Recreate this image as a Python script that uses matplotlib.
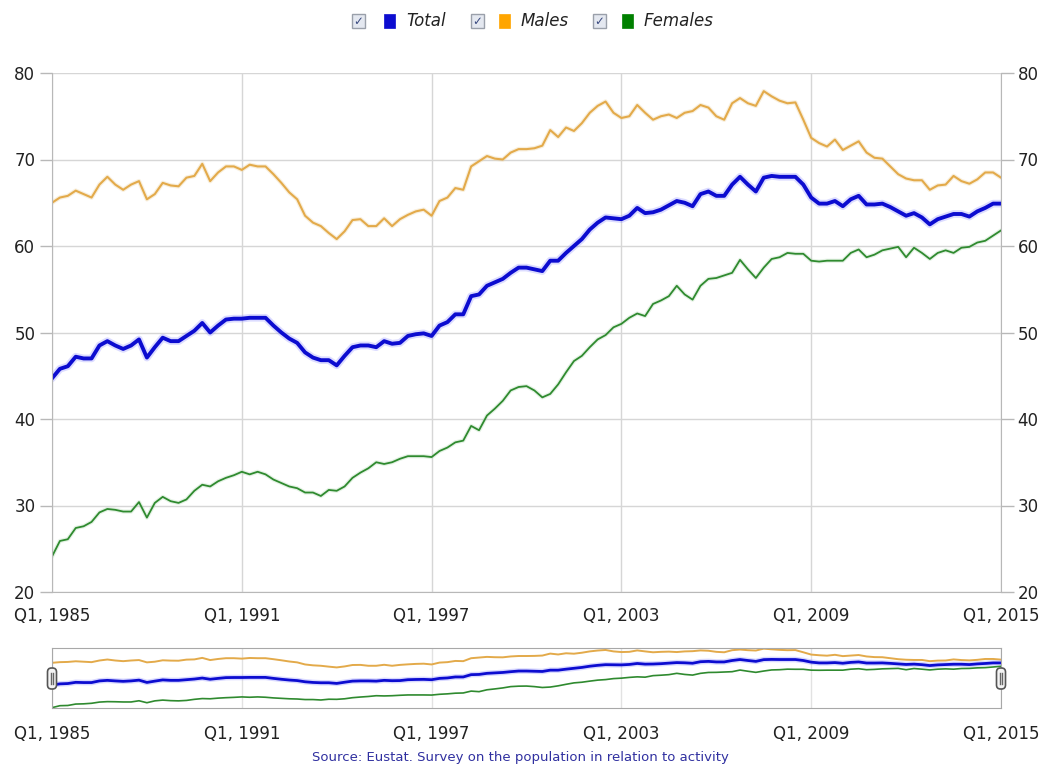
import numpy as np
import matplotlib.pyplot as plt
from matplotlib.patches import Rectangle, FancyBboxPatch

# quarterly activity rates, Q1 1985 .. Q1 2015
years = list(range(1985, 2016))
quarter_labels = [f"Q{q}, {y}" for y in years for q in range(1, 5)][:121]

total = [44.7, 45.8, 46.1, 47.2, 47.0, 47.0, 48.5, 49.0, 48.5, 48.1,
         48.5, 49.2, 47.1, 48.3, 49.4, 49.0, 49.0, 49.6, 50.2, 51.1,
         50.0, 50.8, 51.5, 51.6, 51.6, 51.7, 51.7, 51.7, 50.8, 50.0,
         49.3, 48.8, 47.7, 47.1, 46.8, 46.8, 46.2, 47.3, 48.3, 48.5,
         48.5, 48.3, 49.0, 48.7, 48.8, 49.6, 49.8, 49.9, 49.6, 50.8,
         51.2, 52.1, 52.1, 54.2, 54.4, 55.4, 55.8, 56.2, 56.9, 57.5,
         57.5, 57.3, 57.1, 58.3, 58.3, 59.2, 60.0, 60.8, 61.9, 62.7,
         63.3, 63.2, 63.1, 63.5, 64.4, 63.8, 63.9, 64.2, 64.7, 65.2,
         65.0, 64.6, 66.0, 66.3, 65.8, 65.8, 67.1, 68.0, 67.1, 66.3,
         67.9, 68.1, 68.0, 68.0, 68.0, 67.1, 65.6, 64.9, 64.9, 65.2,
         64.6, 65.4, 65.8, 64.8, 64.8, 64.9, 64.5, 64.0, 63.5, 63.8,
         63.3, 62.5, 63.1, 63.4, 63.7, 63.7, 63.4, 64.0, 64.4, 64.9,
         64.9]

males = [65.0, 65.6, 65.8, 66.4, 66.0, 65.6, 67.1, 68.0, 67.1, 66.5,
         67.1, 67.5, 65.4, 66.0, 67.3, 67.0, 66.9, 67.9, 68.1, 69.5,
         67.5, 68.5, 69.2, 69.2, 68.8, 69.4, 69.2, 69.2, 68.3, 67.3,
         66.2, 65.4, 63.5, 62.7, 62.3, 61.5, 60.8, 61.7, 63.0, 63.1,
         62.3, 62.3, 63.2, 62.3, 63.1, 63.6, 64.0, 64.2, 63.5, 65.2,
         65.6, 66.7, 66.5, 69.2, 69.8, 70.4, 70.1, 70.0, 70.8, 71.2,
         71.2, 71.3, 71.6, 73.4, 72.6, 73.7, 73.3, 74.2, 75.4, 76.2,
         76.7, 75.4, 74.8, 75.0, 76.3, 75.4, 74.6, 75.0, 75.2, 74.8,
         75.4, 75.6, 76.3, 76.0, 75.0, 74.6, 76.5, 77.1, 76.5, 76.2,
         77.9, 77.3, 76.8, 76.5, 76.6, 74.6, 72.5, 71.9, 71.5, 72.3,
         71.1, 71.6, 72.1, 70.8, 70.2, 70.1, 69.2, 68.3, 67.8, 67.6,
         67.6, 66.5, 67.0, 67.1, 68.1, 67.5, 67.2, 67.7, 68.5, 68.5,
         67.9]

females = [24.1, 25.9, 26.1, 27.4, 27.6, 28.1, 29.2, 29.6, 29.5, 29.3,
           29.3, 30.4, 28.6, 30.3, 31.0, 30.5, 30.3, 30.7, 31.7, 32.4,
           32.2, 32.8, 33.2, 33.5, 33.9, 33.6, 33.9, 33.6, 33.0, 32.6,
           32.2, 32.0, 31.5, 31.5, 31.1, 31.8, 31.7, 32.2, 33.2, 33.8,
           34.3, 35.0, 34.8, 35.0, 35.4, 35.7, 35.7, 35.7, 35.6, 36.3,
           36.7, 37.3, 37.5, 39.2, 38.7, 40.4, 41.2, 42.1, 43.3, 43.7,
           43.8, 43.3, 42.5, 42.9, 44.0, 45.4, 46.7, 47.3, 48.3, 49.2,
           49.7, 50.6, 51.0, 51.7, 52.2, 51.9, 53.3, 53.7, 54.2, 55.4,
           54.4, 53.8, 55.4, 56.2, 56.3, 56.6, 56.9, 58.4, 57.3, 56.3,
           57.5, 58.5, 58.7, 59.2, 59.1, 59.1, 58.3, 58.2, 58.3, 58.3,
           58.3, 59.2, 59.6, 58.7, 59.0, 59.5, 59.7, 59.9, 58.7, 59.8,
           59.2, 58.5, 59.2, 59.5, 59.2, 59.8, 59.9, 60.4, 60.6, 61.2,
           61.8]

series_names = ["Total", "Males", "Females"]
y_ticks = [20, 30, 40, 50, 60, 70, 80]

BLUE = "#0c0cd0"
ORANGE = "#e3aa4a"
GREEN = "#2f8a2f"
GRID = "#d6d6d6"
AXIS = "#b8b8b8"

x = np.arange(len(total))
tick_pos = list(x[::24])
tick_labels = [quarter_labels[i] for i in tick_pos]

W, H = 1041, 774
fig = plt.figure(figsize=(W / 100, H / 100), dpi=100)

# main chart
ax = fig.add_axes([52 / W, 1 - 592 / H, 949 / W, 519 / H])
ax.plot(x, males, color="#ecd3a0", lw=3.2, alpha=0.35, solid_capstyle="round")
ax.plot(x, males, color=ORANGE, lw=1.5)
ax.plot(x, total, color="#8c8cff", lw=5.5, alpha=0.3, solid_capstyle="round")
ax.plot(x, total, color=BLUE, lw=2.8)
ax.plot(x, females, color="#a8d4a8", lw=3, alpha=0.3, solid_capstyle="round")
ax.plot(x, females, color=GREEN, lw=1.3)

ax.set_xlim(0, 120)
ax.set_ylim(20, 80)
ax.set_xticks(tick_pos)
ax.set_xticklabels(tick_labels)
ax.set_yticks(y_ticks)
ax.grid(True, color=GRID, lw=1)
ax.set_axisbelow(True)
for side in ["left", "right", "bottom"]:
    ax.spines[side].set_color(AXIS)
ax.spines["top"].set_visible(False)
ax.tick_params(axis="x", length=0, pad=11, labelsize=12, colors="#222222")
ax.tick_params(axis="y", length=9, width=1, color=AXIS, pad=3, labelsize=12,
               labelcolor="#222222", right=True, labelright=True)

# navigator
nav = fig.add_axes([52 / W, 1 - 708 / H, 949 / W, 60 / H])
nav.plot(x, males, color=ORANGE, lw=1.4)
nav.plot(x, total, color="#8080ff", lw=4, alpha=0.3)
nav.plot(x, total, color=BLUE, lw=2)
nav.plot(x, females, color=GREEN, lw=1.2)
nav.set_xlim(0, 120)
nav.set_ylim(23.8, 78.5)
nav.set_xticks(tick_pos)
nav.set_xticklabels(tick_labels)
nav.set_yticks([])
nav.grid(True, axis="x", color="#e2e2e2", lw=1)
nav.set_axisbelow(True)
for side in nav.spines:
    nav.spines[side].set_color("#a8a8a8")
nav.tick_params(axis="x", length=0, pad=12, labelsize=12, colors="#222222")

# overlay in pixel coordinates for legend, handles and source
ov = fig.add_axes([0, 0, 1, 1], facecolor="none")
ov.set_xlim(0, W)
ov.set_ylim(H, 0)
ov.axis("off")

for hx in [52, 1001]:
    ov.add_patch(FancyBboxPatch((hx - 4.5, 668), 9, 21,
                                boxstyle="round,pad=0,rounding_size=4",
                                fc="#f4f4f4", ec="#555555", lw=1.2, zorder=5))
    ov.plot([hx - 1.2, hx - 1.2], [673, 684], color="#666666", lw=1, zorder=6)
    ov.plot([hx + 1.2, hx + 1.2], [673, 684], color="#666666", lw=1, zorder=6)

legend_items = [(352, 384, 406, BLUE), (471, 499, 521, "#ffa500"), (593, 622, 644, "#008000")]
for name, (cx, sx, tx, col) in zip(series_names, legend_items):
    ov.add_patch(Rectangle((cx, 14), 13, 14, fc="#e4e8f0", ec="#9aa0aa", lw=1))
    ov.text(cx + 6.5, 21, "\u2713", ha="center", va="center", fontsize=8.5,
            color="#3a4a80")
    ov.add_patch(Rectangle((sx, 14), 11, 14, fc=col, ec=col, lw=0.5))
    ov.text(tx, 20.5, name, ha="left", va="center", fontsize=12,
            style="italic", color="#222222")

ov.text(520, 757, "Source: Eustat. Survey on the population in relation to activity",
        ha="center", va="center", fontsize=9.5, color="#3030a0")

fig.savefig("out.png", dpi=100)
